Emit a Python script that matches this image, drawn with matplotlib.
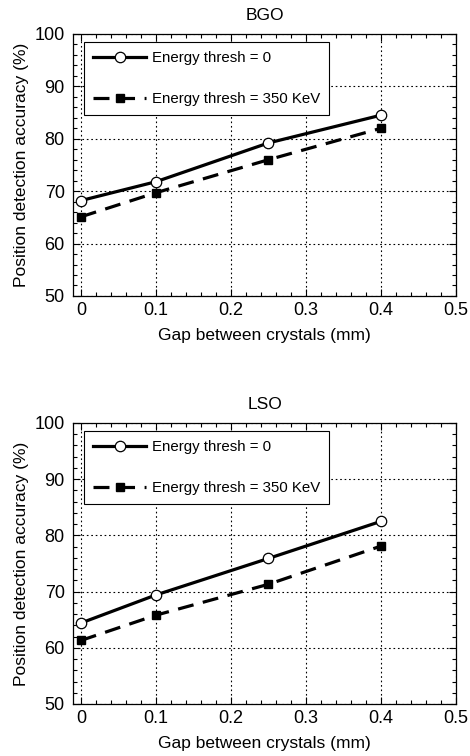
#!/usr/bin/env python3
# -*- coding: utf-8 -*-

import numpy as np
import matplotlib as mpl
mpl.use('Agg')
from matplotlib import pyplot as plt
from matplotlib.ticker import MultipleLocator

gap = [0.0, 0.1, 0.25, 0.4]

bgo_thresh0 = [68.2, 71.8, 79.2, 84.5]
bgo_thresh350 = [65.1, 69.7, 76.0, 82.0]

lso_thresh0 = [64.4, 69.4, 75.9, 82.5]
lso_thresh350 = [61.3, 65.8, 71.3, 78.1]

titles = ["BGO", "LSO"]
labels = ["Energy thresh = 0", "Energy thresh = 350 KeV"]

plt.rcParams['font.family'] = ['Liberation Sans', 'DejaVu Sans']
plt.rcParams['font.size'] = 11


def draw_panel(ax, title, y0, y1):
    ax.plot(gap, y0, color='black', lw=2.3, marker='o', ms=7.5,
            mfc='white', mec='black', mew=0.9, label=labels[0])
    ax.plot(gap, y1, color='black', lw=2.3, ls=(0, (5, 3)), marker='s',
            ms=6.3, mfc='black', mec='black', label=labels[1])
    ax.set_xlim(-0.0105, 0.5)
    ax.set_ylim(50, 100)
    ax.xaxis.set_major_locator(MultipleLocator(0.1))
    ax.xaxis.set_minor_locator(MultipleLocator(0.02))
    ax.yaxis.set_major_locator(MultipleLocator(10))
    ax.yaxis.set_minor_locator(MultipleLocator(2))
    ax.set_xticks([0, 0.1, 0.2, 0.3, 0.4, 0.5])
    ax.set_xticklabels(['0', '0.1', '0.2', '0.3', '0.4', '0.5'])
    ax.tick_params(which='both', direction='in', top=True, right=True,
                   labelsize=13)
    ax.tick_params(axis='x', which='major', length=5, width=0.8, pad=4)
    ax.tick_params(axis='y', which='major', length=5, width=0.8, pad=6)
    ax.tick_params(which='minor', length=3, width=0.8)
    ax.grid(True, which='major', color='black', ls=(0, (1.5, 2.5)), lw=0.8)
    for s in ax.spines.values():
        s.set_linewidth(0.9)
    ax.set_title(title, pad=10, fontsize=12.5)
    ax.set_xlabel("Gap between crystals (mm)", labelpad=7, fontsize=12.5)
    ax.set_ylabel("Position detection accuracy (%)", labelpad=4, fontsize=12.5)
    leg = ax.legend(loc='upper left', bbox_to_anchor=(0.03, 0.97),
                    frameon=True, fancybox=False, framealpha=1,
                    edgecolor='black', handlelength=3.5, handletextpad=0.4,
                    labelspacing=1.8, borderpad=0.6, borderaxespad=0,
                    fontsize=10.8)
    leg.get_frame().set_linewidth(0.8)


def main():
    fig = plt.figure(figsize=(4.7, 7.56), dpi=100)
    ax1 = fig.add_axes([0.1553, 0.6085, 0.815, 0.3466])
    ax2 = fig.add_axes([0.1553, 0.0688, 0.815, 0.3717])
    draw_panel(ax1, titles[0], bgo_thresh0, bgo_thresh350)
    draw_panel(ax2, titles[1], lso_thresh0, lso_thresh350)
    fig.savefig('out.png', dpi=100)


if __name__ == "__main__":
    main()
